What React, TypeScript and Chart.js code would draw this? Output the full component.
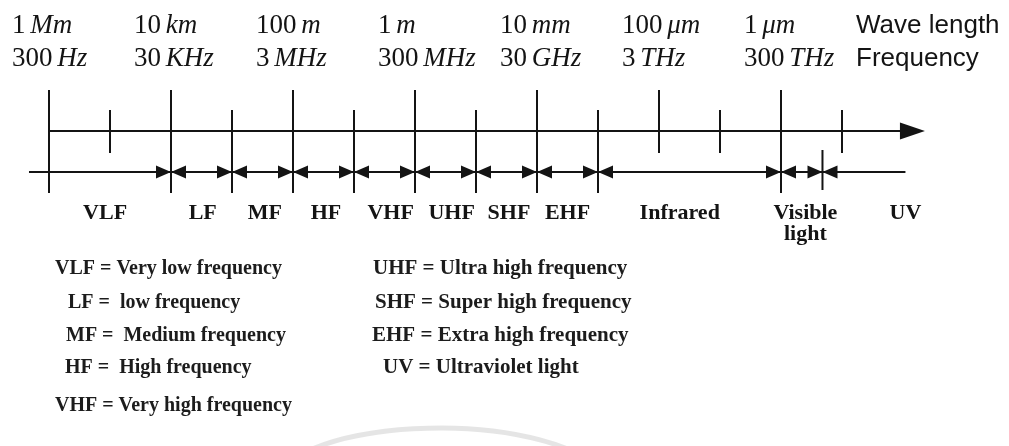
import React, { useEffect, useRef } from "react";
import { Chart, registerables } from "chart.js";

Chart.register(...registerables);

// ---- data (x positions are in "decade steps": 0 = 1 Mm / 300 Hz, each step = x100) ----
const wavelengthValues = ["1", "10", "100", "1", "10", "100", "1"];
const wavelengthUnits = ["Mm", "km", "m", "m", "mm", "μm", "μm"];
const frequencyValues = ["300", "30", "3", "300", "30", "3", "300"];
const frequencyUnits = ["Hz", "KHz", "MHz", "MHz", "GHz", "THz", "THz"];
const majorTicks = [0, 1, 2, 3, 4, 5, 6];
const minorTicks = [0.5, 1.5, 2.5, 3.5, 4.5, 5.5, 6.5];
const bandEdges = [1, 1.5, 2, 2.5, 3, 3.5, 4, 4.5, 6, 6.34];
const bandNames = ["VLF", "LF", "MF", "HF", "VHF", "UHF", "SHF", "EHF", "Infrared", "Visible\nlight", "UV"];
const bandLabelPos = [0.46, 1.26, 1.77, 2.27, 2.8, 3.3, 3.77, 4.25, 5.17, 6.2, 7.02];
const axisStart = 0;
const axisTip = 7.18;
const bandLineStart = -0.164;
const bandLineEnd = 7.02;
const legendLeft = [
  "VLF = Very low frequency",
  "LF =  low frequency",
  "MF =  Medium frequency",
  "HF =  High frequency",
  "VHF = Very high frequency",
];
const legendRight = [
  "UHF = Ultra high frequency",
  "SHF = Super high frequency",
  "EHF = Extra high frequency",
  "UV = Ultraviolet light",
];

// ---- layout / style ----
const W = 1009;
const H = 446;
const INK = "#141414";
const ROW = {
  wave: 33,
  freq: 66,
  majorTop: 90,
  minorTop: 110,
  axis: 131,
  band: 172,
  shortBottom: 153,
  longBottom: 193,
  splitTop: 150,
  splitBottom: 190,
  bandLabel: 219,
  bandLabel2: 240,
};
const legendRows = [274, 308, 341, 373, 411];
const legendLeftX = [55, 68, 66, 65, 55];
const legendRightX = [373, 375, 372, 383];

function seg(x1: number, y1: number, x2: number, y2: number) {
  return {
    data: [
      { x: x1, y: y1 },
      { x: x2, y: y2 },
    ],
    showLine: true,
    borderColor: INK,
    borderWidth: 2,
    pointRadius: 0,
    pointHoverRadius: 0,
    fill: false,
  };
}

function buildDatasets() {
  const ds: any[] = [];
  const crossing = new Set([0, ...bandEdges]);
  majorTicks.forEach((t) => {
    ds.push(seg(t, ROW.majorTop, t, crossing.has(t) ? ROW.longBottom : ROW.shortBottom));
  });
  minorTicks.forEach((t) => {
    ds.push(seg(t, ROW.minorTop, t, crossing.has(t) ? ROW.longBottom : ROW.shortBottom));
  });
  bandEdges.forEach((b) => {
    if (!majorTicks.includes(b) && !minorTicks.includes(b)) {
      ds.push(seg(b, ROW.splitTop, b, ROW.splitBottom));
    }
  });
  ds.push(seg(axisStart, ROW.axis, axisTip - 0.1, ROW.axis));
  ds.push(seg(bandLineStart, ROW.band, bandLineEnd, ROW.band));
  return ds;
}

const diagramPlugin = {
  id: "spectrumDiagram",
  afterDatasetsDraw(chart: any) {
    const { ctx } = chart;
    const xs = chart.scales.x;
    const ys = chart.scales.y;
    const px = (v: number) => xs.getPixelForValue(v);
    const py = (v: number) => ys.getPixelForValue(v);
    ctx.save();
    ctx.fillStyle = INK;

    // band arrowheads
    const aLen = 15;
    const aHalf = 6.5;
    bandEdges.forEach((b) => {
      const x = px(b);
      const y = py(ROW.band);
      ctx.beginPath();
      ctx.moveTo(x, y);
      ctx.lineTo(x - aLen, y - aHalf);
      ctx.lineTo(x - aLen, y + aHalf);
      ctx.closePath();
      ctx.fill();
      ctx.beginPath();
      ctx.moveTo(x, y);
      ctx.lineTo(x + aLen, y - aHalf);
      ctx.lineTo(x + aLen, y + aHalf);
      ctx.closePath();
      ctx.fill();
    });

    // main axis arrow
    {
      const x = px(axisTip);
      const y = py(ROW.axis);
      ctx.beginPath();
      ctx.moveTo(x, y);
      ctx.lineTo(x - 25, y - 8.5);
      ctx.lineTo(x - 25, y + 8.5);
      ctx.closePath();
      ctx.fill();
    }

    // top labels
    ctx.textBaseline = "alphabetic";
    ctx.textAlign = "left";
    const drawValUnit = (val: string, unit: string, x: number, y: number) => {
      ctx.font = '27px "Liberation Serif"';
      const t = val + " ";
      ctx.fillText(t, x, y);
      const w = ctx.measureText(t).width;
      ctx.font = 'italic 27px "Liberation Serif"';
      ctx.fillText(unit, x + w - 2, y);
    };
    majorTicks.forEach((t, i) => {
      const x = px(t) - 37;
      drawValUnit(wavelengthValues[i], wavelengthUnits[i], x, py(ROW.wave));
      drawValUnit(frequencyValues[i], frequencyUnits[i], x, py(ROW.freq));
    });
    ctx.font = '26px "Liberation Sans"';
    const sideX = px(majorTicks[majorTicks.length - 1]) + 75;
    ctx.fillText("Wave length", sideX, py(ROW.wave));
    ctx.fillText("Frequency", sideX, py(ROW.freq));

    // band labels
    ctx.font = 'bold 22px "Liberation Serif"';
    ctx.textAlign = "center";
    bandNames.forEach((name, i) => {
      const lines = name.split("\n");
      const x = px(bandLabelPos[i]);
      ctx.fillText(lines[0], x, py(ROW.bandLabel));
      if (lines[1]) ctx.fillText(lines[1], x, py(ROW.bandLabel2));
    });

    // legend
    ctx.textAlign = "left";
    ctx.fillStyle = "#1c1c1c";
    ctx.font = 'bold 20px "Liberation Serif"';
    legendLeft.forEach((s, i) => ctx.fillText(s, legendLeftX[i], legendRows[i]));
    ctx.font = 'bold 21px "Liberation Serif"';
    legendRight.forEach((s, i) => ctx.fillText(s, legendRightX[i], legendRows[i]));

    // faint scan watermark arc
    ctx.strokeStyle = "rgba(0,0,0,0.10)";
    ctx.lineWidth = 5;
    ctx.beginPath();
    ctx.ellipse(440, 490, 170, 62, 0, Math.PI * 1.2, Math.PI * 1.8);
    ctx.stroke();

    ctx.restore();
  },
};

export default function App() {
  const ref = useRef<HTMLCanvasElement | null>(null);
  useEffect(() => {
    document.body.style.margin = "0";
    const canvas = ref.current;
    if (!canvas) return;
    // map decade steps so tick 0 sits at 49px and steps are 122px wide
    const xMin = (0 - 49) / 122;
    const xMax = (W - 49) / 122;
    const chart = new Chart(canvas, {
      type: "scatter",
      data: { datasets: buildDatasets() },
      options: {
        animation: false,
        responsive: false,
        devicePixelRatio: 1,
        events: [],
        layout: { padding: 0 },
        plugins: { legend: { display: false }, tooltip: { enabled: false }, title: { display: false } },
        scales: {
          x: { type: "linear", min: xMin, max: xMax, display: false },
          y: { type: "linear", min: 0, max: H, reverse: true, display: false },
        },
      },
      plugins: [diagramPlugin],
    });
    return () => chart.destroy();
  }, []);
  return (
    <div style={{ position: "absolute", left: 0, top: 0, width: W, height: H, background: "#fff" }}>
      <canvas ref={ref} width={W} height={H} style={{ display: "block" }} />
    </div>
  );
}
